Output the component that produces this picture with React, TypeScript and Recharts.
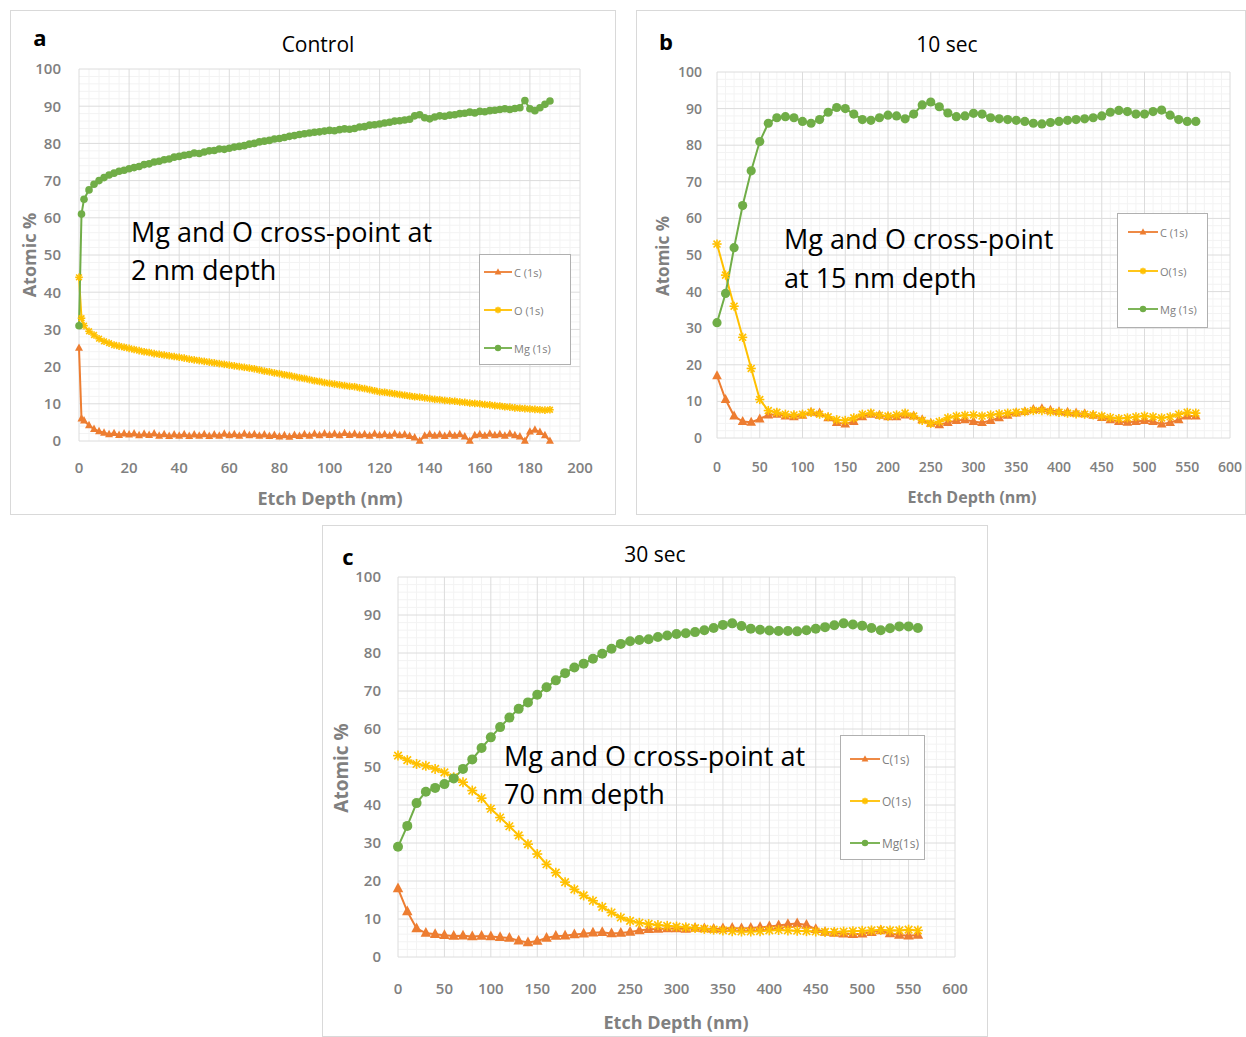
import React from "react";
import { LineChart, Line, XAxis, YAxis, CartesianGrid, Legend } from "recharts";

const C_COL = "#ED7D31";
const O_COL = "#FFC000";
const MG_COL = "#70AD47";
const GRAY = "#808080";

// ---- panel a : Control ----
const depthA = [
  0, 1, 2, 4, 6, 8, 10, 12, 14, 16, 18, 20, 22, 24, 26, 28, 30, 32, 34, 36, 38, 40, 42, 44, 46, 48, 50,
  52, 54, 56, 58, 60, 62, 64, 66, 68, 70, 72, 74, 76, 78, 80, 82, 84, 86, 88, 90, 92, 94, 96, 98, 100,
  102, 104, 106, 108, 110, 112, 114, 116, 118, 120, 122, 124, 126, 128, 130, 132, 134, 136, 138, 140,
  142, 144, 146, 148, 150, 152, 154, 156, 158, 160, 162, 164, 166, 168, 170, 172, 174, 176, 178, 180,
  182, 184, 186, 188,
];
const mgA = [
  31, 61, 65, 67.5, 69, 70, 70.8, 71.5, 72, 72.5, 72.8, 73.2, 73.5, 73.8, 74.3, 74.5, 75, 75.2, 75.6,
  75.8, 76.3, 76.5, 76.8, 77, 77.4, 77.3, 77.7, 78, 78.1, 78.5, 78.4, 78.7, 79, 79.2, 79.4, 79.8, 80,
  80.4, 80.6, 80.8, 81.2, 81.3, 81.6, 81.9, 82.1, 82.4, 82.6, 82.8, 83, 83.1, 83.3, 83.5, 83.4, 83.7,
  83.9, 83.8, 84, 84.4, 84.5, 84.9, 85, 85.2, 85.5, 85.7, 86, 86.1, 86.3, 86.5, 87.4, 87.7, 86.9, 86.6,
  87.1, 87.4, 87.3, 87.6, 87.7, 88, 88.1, 88.4, 88.2, 88.6, 88.5, 88.8, 88.9, 89.1, 89.3, 89.1, 89.4,
  89.6, 91.5, 89.3, 88.8, 89.6, 90.5, 91.4,
];
const oA = [
  44, 33, 31, 29.5, 28.5, 27.5, 26.8, 26.3, 25.8, 25.5, 25.2, 24.9, 24.6, 24.3, 24, 23.8, 23.5, 23.3,
  23.1, 22.9, 22.7, 22.5, 22.3, 22, 21.8, 21.6, 21.4, 21.2, 21, 20.8, 20.6, 20.4, 20.2, 20, 19.8, 19.6,
  19.4, 19.1, 18.8, 18.6, 18.3, 18.1, 17.8, 17.6, 17.3, 17, 16.8, 16.5, 16.2, 16, 15.7, 15.5, 15.3,
  15.1, 14.9, 14.7, 14.6, 14.3, 14.1, 13.8, 13.5, 13.2, 13.1, 12.9, 12.7, 12.5, 12.3, 12.1, 11.9, 11.8,
  11.6, 11.4, 11.2, 11.1, 10.9, 10.8, 10.7, 10.5, 10.4, 10.2, 10.1, 10, 9.8, 9.7, 9.5, 9.4, 9.2, 9.1,
  8.9, 8.8, 8.7, 8.6, 8.5, 8.4, 8.3, 8.4,
];
const cA = [
  25, 6, 5.5, 4.2, 3.2, 2.6, 2.2, 1.8, 2.1, 1.6, 2, 1.7, 2, 1.5, 1.9, 1.6, 2, 1.4, 1.8, 1.3, 1.7, 1.4,
  1.8, 1.3, 1.7, 1.4, 1.8, 1.3, 1.7, 1.4, 1.9, 1.5, 1.8, 1.4, 1.9, 1.5, 1.8, 1.4, 1.7, 1.3, 1.6, 1.2,
  1.5, 1.1, 1.6, 1.3, 1.8, 1.4, 1.9, 1.5, 2, 1.6, 1.9, 1.5, 2.1, 1.6, 1.9, 1.5, 1.8, 1.4, 1.9, 1.5,
  1.8, 1.4, 1.9, 1.5, 1.7, 1.3, 0.9, 0, 1.4, 1.8, 1.4, 1.7, 1.3, 1.8, 1.4, 1.8, 1.2, 0, 1.5, 1.8, 1.4,
  1.9, 1.5, 1.8, 1.4, 1.9, 1.5, 1.2, 0, 2.5, 3, 2.4, 1.5, 0,
];

// ---- panels b and c share the depth steps ----
const depthBC = [
  0, 10, 20, 30, 40, 50, 60, 70, 80, 90, 100, 110, 120, 130, 140, 150, 160, 170, 180, 190, 200, 210,
  220, 230, 240, 250, 260, 270, 280, 290, 300, 310, 320, 330, 340, 350, 360, 370, 380, 390, 400, 410,
  420, 430, 440, 450, 460, 470, 480, 490, 500, 510, 520, 530, 540, 550, 560,
];
// b : 10 sec
const mgB = [
  31.5, 39.5, 52, 63.5, 73, 81, 86, 87.5, 87.8, 87.5, 86.5, 86, 87, 89, 90.3, 90, 88.5, 87, 86.8, 87.5,
  88.2, 88, 87.2, 88.5, 91, 91.8, 90.5, 88.8, 87.8, 88, 88.7, 88.5, 87.5, 87.2, 87, 86.8, 86.5, 86,
  85.8, 86.2, 86.5, 86.8, 87, 87.2, 87.5, 88, 89, 89.5, 89.2, 88.5, 88.5, 89.2, 89.6, 88.2, 87, 86.5,
  86.5,
];
const oB = [
  53, 44.5, 36, 27.5, 19, 10.5, 7.5, 7, 6.5, 6.3, 6.5, 7, 6.5, 5.8, 5, 4.8, 5.5, 6.5, 6.8, 6.2, 6, 6.3,
  6.8, 6, 4.8, 4, 4.5, 5.5, 6, 6.2, 6.3, 6, 6.3, 6.6, 6.8, 7, 7.2, 7.5, 7.5, 7.2, 7, 6.8, 6.6, 6.5,
  6.3, 6, 5.6, 5.3, 5.5, 5.8, 6, 5.8, 5.5, 5.8, 6.5, 7, 6.8,
];
const cB = [
  17, 10.5, 6, 4.5, 4.3, 5.2, 6.3, 6.5, 6, 5.8, 6.2, 7, 6.8, 5.5, 4.2, 3.8, 4.5, 5.8, 6.5, 6.2, 5.8,
  5.8, 6.3, 6, 5, 4, 3.6, 4.2, 4.8, 5, 4.5, 4.2, 4.8, 5.5, 6.2, 6.8, 7.2, 7.8, 8, 7.6, 7.2, 7, 6.8,
  6.6, 6.2, 5.6, 5, 4.5, 4.3, 4.5, 4.8, 4.5, 3.8, 4.2, 5, 6, 6,
];
// c : 30 sec
const mgC = [
  29, 34.5, 40.5, 43.5, 44.5, 45.5, 47, 49.5, 52, 55, 57.8, 60.5, 63, 65.3, 67, 69, 71, 72.8, 74.7,
  76.2, 77.2, 78.5, 79.8, 81.1, 82.4, 83.1, 83.4, 83.6, 84.2, 84.6, 85, 85.2, 85.5, 86, 86.6, 87.4,
  87.8, 87.1, 86.4, 86.1, 85.9, 85.8, 85.8, 85.7, 86, 86.4, 86.8, 87.3, 87.8, 87.5, 87.2, 86.6, 86,
  86.5, 87, 87, 86.6,
];
const oC = [
  53, 51.8, 50.8, 50.3, 49.5, 48.6, 47.3, 46, 43.8, 41.8, 39, 36.7, 34.4, 32, 29.7, 27.1, 24.4, 22.2,
  19.7, 17.8, 16.2, 14.8, 13.2, 11.7, 10.4, 9.5, 9, 8.7, 8.4, 8.2, 8, 7.8, 7.6, 7.4, 7.2, 7, 6.8, 6.7,
  6.7, 6.8, 7, 7.1, 7, 6.9, 6.8, 6.7, 6.6, 6.6, 6.7, 6.8, 6.9, 7, 7.1, 7, 7, 7.2, 7,
];
const cC = [
  18, 12, 7.5, 6.3, 6, 5.7, 5.5, 5.6, 5.4, 5.5, 5.4, 5.2, 5, 4.3, 3.8, 4.2, 5, 5.5, 5.6, 5.9, 6.1, 6.4,
  6.5, 6.2, 6.3, 6.6, 7, 7.3, 7.4, 7.5, 7.5, 7.4, 7.6, 7.5, 7.4, 7.5, 7.6, 7.5, 7.6, 7.8, 8, 8.3, 8.6,
  8.8, 8.4, 7.3, 6.6, 6.3, 6.1, 6, 6.1, 6.5, 7, 6.2, 5.8, 5.6, 5.8,
];

// ---- ticks ----
const yTicks = [0, 10, 20, 30, 40, 50, 60, 70, 80, 90, 100];
const yMinor = [
  2, 4, 6, 8, 12, 14, 16, 18, 22, 24, 26, 28, 32, 34, 36, 38, 42, 44, 46, 48, 52, 54, 56, 58, 62, 64,
  66, 68, 72, 74, 76, 78, 82, 84, 86, 88, 92, 94, 96, 98,
];
const xTicksA = [0, 20, 40, 60, 80, 100, 120, 140, 160, 180, 200];
const xMinorA = [
  4, 8, 12, 16, 24, 28, 32, 36, 44, 48, 52, 56, 64, 68, 72, 76, 84, 88, 92, 96, 104, 108, 112, 116,
  124, 128, 132, 136, 144, 148, 152, 156, 164, 168, 172, 176, 184, 188, 192, 196,
];
const xTicksBC = [0, 50, 100, 150, 200, 250, 300, 350, 400, 450, 500, 550, 600];
const xMinorBC = [
  10, 20, 30, 40, 60, 70, 80, 90, 110, 120, 130, 140, 160, 170, 180, 190, 210, 220, 230, 240, 260,
  270, 280, 290, 310, 320, 330, 340, 360, 370, 380, 390, 410, 420, 430, 440, 460, 470, 480, 490, 510,
  520, 530, 540, 560, 570, 580, 590,
];

const zip = (d: number[], c: number[], o: number[], mg: number[]) =>
  d.map((v, i) => ({ d: v, c: c[i], o: o[i], mg: mg[i] }));

const Marker = ({ kind, cx, cy, s }: { kind: string; cx: number; cy: number; s: number }) => {
  if (kind === "c")
    return (
      <polygon
        points={`${cx},${cy - s * 1.2} ${cx - s * 1.05},${cy + s * 0.75} ${cx + s * 1.05},${cy + s * 0.75}`}
        fill={C_COL}
      />
    );
  if (kind === "o")
    return (
      <g stroke={O_COL} strokeWidth={1.6}>
        <line x1={cx - s} y1={cy} x2={cx + s} y2={cy} />
        <line x1={cx - s * 0.75} y1={cy - s * 0.75} x2={cx + s * 0.75} y2={cy + s * 0.75} />
        <line x1={cx - s * 0.75} y1={cy + s * 0.75} x2={cx + s * 0.75} y2={cy - s * 0.75} />
        <line x1={cx} y1={cy - s} x2={cx} y2={cy + s} />
      </g>
    );
  return <circle cx={cx} cy={cy} r={s} fill={MG_COL} />;
};

const dotFn = (kind: string, s: number) => (p: any) => {
  if (p.cx == null || p.cy == null) return <g key={`${kind}-${p.index}`} />;
  return (
    <g key={`${kind}-${p.index}`}>
      <Marker kind={kind} cx={p.cx} cy={p.cy} s={s} />
    </g>
  );
};

const SERIES = [
  { key: "c", color: C_COL },
  { key: "o", color: O_COL },
  { key: "mg", color: MG_COL },
];

type LegendCfg = {
  left: number;
  top: number;
  w: number;
  h: number;
  rows: number[];
  lineX: number;
  lineW: number;
  names: string[];
  fontSize: number;
};

const makeLegend = (lg: LegendCfg) => () =>
  (
    <div
      style={{
        width: lg.w,
        height: lg.h,
        border: "1px solid #b0b0b0",
        boxSizing: "border-box",
        background: "#fff",
        position: "relative",
        fontFamily: "'Open Sans', sans-serif",
        fontSize: lg.fontSize,
        color: GRAY,
      }}
    >
      {SERIES.map((s, i) => (
        <div
          key={s.key}
          style={{
            position: "absolute",
            left: lg.lineX,
            top: lg.rows[i] - 8,
            height: 16,
            display: "flex",
            alignItems: "center",
            whiteSpace: "nowrap",
          }}
        >
          <svg width={lg.lineW} height={16}>
            <line x1={0} y1={8} x2={lg.lineW} y2={8} stroke={s.color} strokeWidth={1.8} />
            <Marker kind={s.key} cx={lg.lineW / 2} cy={8} s={3.2} />
          </svg>
          <span style={{ marginLeft: 2 }}>{lg.names[i]}</span>
        </div>
      ))}
    </div>
  );

type PanelCfg = {
  left: number;
  top: number;
  w: number;
  h: number;
  data: any[];
  margin: { top: number; right: number; bottom: number; left: number };
  yWidth: number;
  xHeight: number;
  xDomain: [number, number];
  xTicks: number[];
  xMinor: number[];
  tickFont: number;
  yTickMargin: number;
  xTickMargin: number;
  mark: number;
  legend: LegendCfg;
};

const Panel = (p: PanelCfg) => {
  const tick = {
    fill: GRAY,
    fontSize: p.tickFont,
    fontFamily: "'Open Sans', sans-serif",
    fontWeight: 600,
  };
  return (
    <div style={{ position: "absolute", left: p.left, top: p.top, width: p.w, height: p.h }}>
      <div
        style={{
          position: "absolute",
          inset: 0,
          border: "1px solid #d9d9d9",
          boxSizing: "border-box",
        }}
      />
      <LineChart width={p.w} height={p.h} data={p.data} margin={p.margin}>
        <CartesianGrid stroke="#f3f3f3" horizontalValues={yMinor} verticalValues={p.xMinor} />
        <CartesianGrid stroke="#dcdcdc" />
        <XAxis
          dataKey="d"
          type="number"
          domain={p.xDomain}
          ticks={p.xTicks}
          interval={0}
          height={p.xHeight}
          axisLine={false}
          tickLine={false}
          tickSize={0}
          tickMargin={p.xTickMargin}
          tick={tick}
        />
        <YAxis
          type="number"
          domain={[0, 100]}
          ticks={yTicks}
          interval={0}
          width={p.yWidth}
          axisLine={false}
          tickLine={false}
          tickSize={0}
          tickMargin={p.yTickMargin}
          tick={tick}
        />
        <Legend
          layout="vertical"
          align="center"
          verticalAlign="middle"
          content={makeLegend(p.legend)}
          wrapperStyle={{ left: p.legend.left, top: p.legend.top, width: p.legend.w, height: p.legend.h }}
        />
        <Line
          dataKey="c"
          name="C (1s)"
          stroke={C_COL}
          strokeWidth={2}
          dot={dotFn("c", p.mark)}
          activeDot={false}
          isAnimationActive={false}
        />
        <Line
          dataKey="o"
          name="O (1s)"
          stroke={O_COL}
          strokeWidth={2}
          dot={dotFn("o", p.mark)}
          activeDot={false}
          isAnimationActive={false}
        />
        <Line
          dataKey="mg"
          name="Mg (1s)"
          stroke={MG_COL}
          strokeWidth={2}
          dot={dotFn("mg", p.mark)}
          activeDot={false}
          isAnimationActive={false}
        />
      </LineChart>
    </div>
  );
};

const Txt = ({
  x,
  y,
  size,
  weight = 400,
  color = "#000",
  rotate = false,
  align = "center",
  children,
}: {
  x: number;
  y: number;
  size: number;
  weight?: number;
  color?: string;
  rotate?: boolean;
  align?: "center" | "left";
  children: React.ReactNode;
}) => (
  <div
    style={{
      position: "absolute",
      left: x,
      top: y,
      transform: `translate(${align === "center" ? "-50%" : "0"}, -50%)${rotate ? " rotate(-90deg)" : ""}`,
      fontFamily: "'Open Sans', sans-serif",
      fontSize: size,
      fontWeight: weight,
      color,
      whiteSpace: "nowrap",
      lineHeight: 1,
    }}
  >
    {children}
  </div>
);

export default function App() {
  return (
    <div
      style={{
        position: "absolute",
        left: 0,
        top: 0,
        width: 1246,
        height: 1037,
        background: "#fff",
        overflow: "hidden",
      }}
    >
      <Panel
        left={10}
        top={10}
        w={606}
        h={505}
        data={zip(depthA, cA, oA, mgA)}
        margin={{ top: 59, right: 36, bottom: 34, left: 19 }}
        yWidth={50}
        xHeight={40}
        xDomain={[0, 200]}
        xTicks={xTicksA}
        xMinor={xMinorA}
        tickFont={15}
        yTickMargin={18}
        xTickMargin={21}
        mark={3.8}
        legend={{
          left: 469,
          top: 244,
          w: 92,
          h: 111,
          rows: [17, 55, 93],
          lineX: 4,
          lineW: 28,
          names: ["C (1s)", "O (1s)", "Mg (1s)"],
          fontSize: 11,
        }}
      />
      <Panel
        left={636}
        top={10}
        w={610}
        h={505}
        data={zip(depthBC, cB, oB, mgB)}
        margin={{ top: 62, right: 16, bottom: 37, left: 31 }}
        yWidth={50}
        xHeight={40}
        xDomain={[0, 600]}
        xTicks={xTicksBC}
        xMinor={xMinorBC}
        tickFont={14}
        yTickMargin={15}
        xTickMargin={24}
        mark={4.6}
        legend={{
          left: 481,
          top: 203,
          w: 91,
          h: 115,
          rows: [18, 57, 95],
          lineX: 10,
          lineW: 30,
          names: ["C (1s)", "O(1s)", "Mg (1s)"],
          fontSize: 11,
        }}
      />
      <Panel
        left={322}
        top={525}
        w={666}
        h={512}
        data={zip(depthBC, cC, oC, mgC)}
        margin={{ top: 52, right: 33, bottom: 40, left: 26 }}
        yWidth={50}
        xHeight={40}
        xDomain={[0, 600]}
        xTicks={xTicksBC}
        xMinor={xMinorBC}
        tickFont={15}
        yTickMargin={17}
        xTickMargin={26}
        mark={5}
        legend={{
          left: 518,
          top: 210,
          w: 85,
          h: 125,
          rows: [23, 65, 107],
          lineX: 9,
          lineW: 30,
          names: ["C(1s)", "O(1s)", "Mg(1s)"],
          fontSize: 12,
        }}
      />

      {/* panel letters and titles */}
      <Txt x={40} y={37} size={22} weight={700}>a</Txt>
      <Txt x={318} y={44} size={21}>Control</Txt>
      <Txt x={666} y={41} size={22} weight={700}>b</Txt>
      <Txt x={947} y={44} size={21}>10 sec</Txt>
      <Txt x={348} y={556} size={22} weight={700}>c</Txt>
      <Txt x={655} y={554} size={21}>30 sec</Txt>

      {/* axis titles */}
      <Txt x={330} y={498} size={18} weight={700} color={GRAY}>Etch Depth (nm)</Txt>
      <Txt x={29} y={255} size={18} weight={700} color={GRAY} rotate>Atomic %</Txt>
      <Txt x={972} y={497} size={16} weight={700} color={GRAY}>Etch Depth (nm)</Txt>
      <Txt x={662} y={256} size={17} weight={700} color={GRAY} rotate>Atomic %</Txt>
      <Txt x={676} y={1022} size={18} weight={700} color={GRAY}>Etch Depth (nm)</Txt>
      <Txt x={341} y={768} size={19} weight={700} color={GRAY} rotate>Atomic %</Txt>

      {/* annotations */}
      <Txt x={131} y={231} size={27} align="left">Mg and O cross-point at</Txt>
      <Txt x={131} y={269} size={27} align="left">2 nm depth</Txt>
      <Txt x={784} y={238} size={27} align="left">Mg and O cross-point</Txt>
      <Txt x={784} y={277} size={27} align="left">at 15 nm depth</Txt>
      <Txt x={504} y={755} size={27} align="left">Mg and O cross-point at</Txt>
      <Txt x={504} y={793} size={27} align="left">70 nm depth</Txt>
    </div>
  );
}
